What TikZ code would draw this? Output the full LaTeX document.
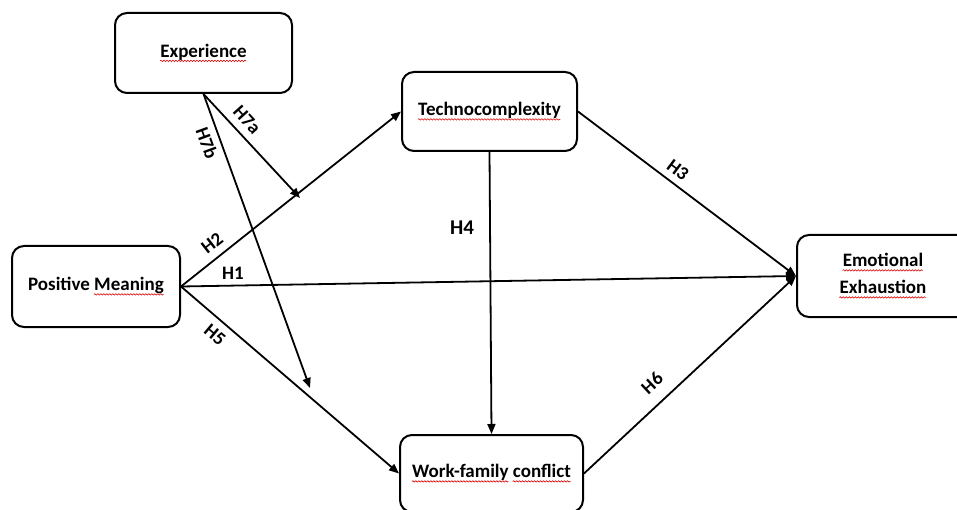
\documentclass[tikz,border=0pt]{standalone}
\usepackage{fontspec}
\setmainfont{Carlito}
\usetikzlibrary{arrows.meta,decorations.pathmorphing}
\newsavebox\sebox
\newcommand\spellerr[1]{\sbox\sebox{#1}\usebox\sebox\llap{\tikz[baseline=0pt]\draw[sharp corners, red!85!black, line width=0.6pt, decorate, decoration={snake, amplitude=0.7pt, segment length=3pt}] (0pt,-3.5pt) -- (\the\wd\sebox,-3.5pt);}}
\tikzset{
  box/.style={draw, line width=2pt, rounded corners=12pt, align=center,
    font=\fontsize{19}{24}\selectfont\bfseries, inner sep=0pt},
  conn/.style={line width=1.8pt, -{Triangle[length=10pt,width=8pt]}},
  hlab/.style={font=\fontsize{19}{20}\selectfont\bfseries, inner sep=0pt}
}
\begin{document}
\begin{tikzpicture}[x=1pt,y=-1pt]
\useasboundingbox (0,0) rectangle (957,510);
\clip (0,0) rectangle (957,510);
\node[box, minimum width=177pt, minimum height=80pt] (exp) at (203.5,53) {\spellerr{Experience}};
\node[box, minimum width=175pt, minimum height=79pt] (tech) at (489.5,111.5) {\spellerr{Technocomplexity}};
\node[box, minimum width=168pt, minimum height=81pt] (pm) at (96,286.5) {Positive \spellerr{Meaning}};
\node[box, minimum width=183pt, minimum height=77pt] (wfc) at (491.5,473.5) {\spellerr{Work-family} \spellerr{conflict}};
\node[box, minimum width=172pt, minimum height=82pt] (emo) at (883,276) {\spellerr{Emotional}\\[3pt]\spellerr{Exhaustion}};
\coordinate (h7aend) at (300,198);
\coordinate (h7bend) at (310,388);
\draw[conn] (exp.south) -- (h7aend);
\draw[conn] (exp.south) -- (h7bend);
\draw[conn] (pm.east) -- (tech.west);
\draw[conn] (pm.east) -- (emo.west);
\draw[conn] (pm.east) -- (wfc.west);
\draw[conn] (tech.east) -- (emo.west);
\draw[conn] (tech.south) -- (wfc.north);
\draw[conn] (wfc.east) -- (emo.west);
\node[hlab, rotate=-48] (l7a) at (247,120) {H7a};
\node[hlab, rotate=-70] (l7b) at (207,143) {H7b};
\node[hlab, rotate=38] (l2) at (212,243) {H2};
\node[hlab] (l1) at (233,273) {H1};
\node[hlab, rotate=-40] (l5) at (215,335) {H5};
\node[hlab, rotate=-37] (l3) at (678,170) {H3};
\node[hlab, rotate=43] (l6) at (652,383) {H6};
\node[hlab, font=\fontsize{21}{24}\selectfont\bfseries] (l4) at (462,228) {H4};
\end{tikzpicture}
\end{document}
